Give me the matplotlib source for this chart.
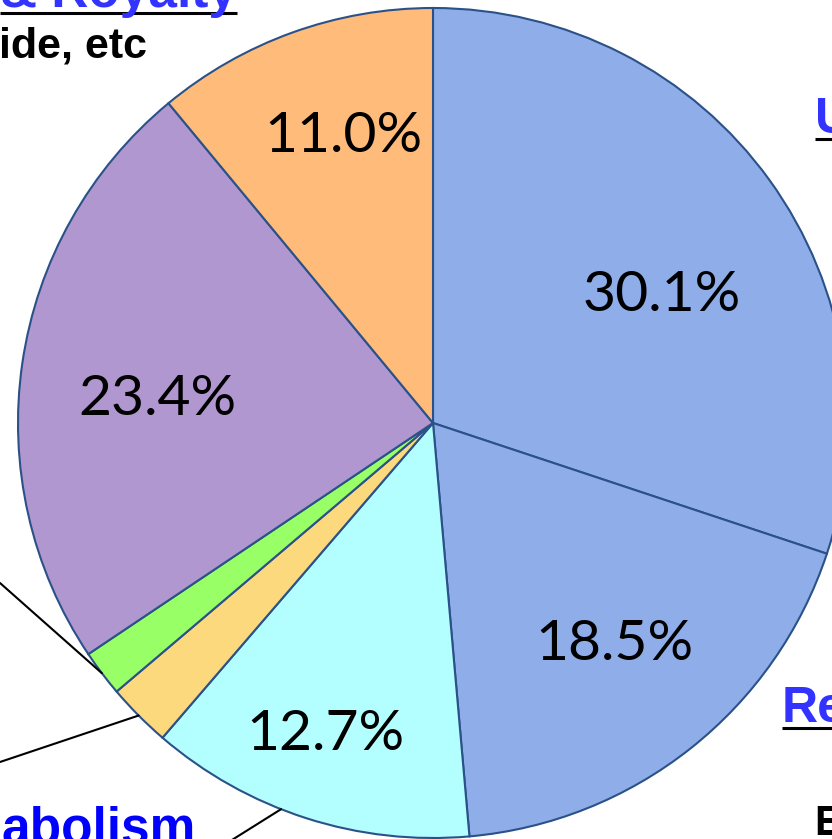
import numpy as np
import matplotlib
matplotlib.use('Agg')
import matplotlib.pyplot as plt

# slice shares, clockwise from 12 o'clock
shares = [30.1, 18.5, 12.7, 2.5, 1.8, 23.4, 11.0]
colors = ['#8EADE9', '#8EADE9', '#B3FFFF', '#FDD97E', '#99FF66', '#B197D0', '#FFBB79']
# label placement: fraction of radius and angle shift (deg, clockwise); None = no label
label_r = [0.636, 0.683, 0.786, None, None, 0.668, 0.732]
label_shift = [6.0, -1.4, 1.5, 0, 0, -2.5, 2.6]

W, H = 832, 839
cx, cy, R = 433, H - 423, 415

fig = plt.figure(figsize=(W / 100, H / 100), dpi=100)
ax = fig.add_axes([0, 0, 1, 1])

wedges, _ = ax.pie(shares, colors=colors, startangle=90, counterclock=False,
                   center=(cx, cy), radius=R, frame=True,
                   wedgeprops=dict(edgecolor='#2B5288', linewidth=1.5))
ax.set_xlim(0, W)
ax.set_ylim(0, H)
ax.axis('off')

for w, v, k, sh in zip(wedges, shares, label_r, label_shift):
    if k is None:
        continue
    mid = np.deg2rad((w.theta1 + w.theta2) / 2 - sh)
    ax.text(cx + k * R * np.cos(mid), cy + k * R * np.sin(mid) - 4, '%.1f%%' % v,
            ha='center', va='center', fontsize=41, family='Lato', color='black')

# leader lines from the small slices (their labels sit outside the visible area)
leader = [(4, 0.5, (0, H - 583)), (3, 0.5, (0, H - 762)), (2, 0.42, (200, H - 860))]
for idx, frac, end in leader:
    w = wedges[idx]
    a = np.deg2rad(w.theta1 + frac * (w.theta2 - w.theta1))
    ax.annotate('', xy=(cx + R * np.cos(a), cy + R * np.sin(a)), xytext=end,
                arrowprops=dict(arrowstyle='-', color='black', lw=1.5,
                                shrinkA=0, shrinkB=0))

blue = '#3333FF'
labels = [
    ('& Royalty', 237, 7, 'right', blue, 37, True),
    ('ide, etc', 147, 58, 'right', 'black', 31, False),
    ('U', 815, 133, 'left', blue, 36, True),
    ('Re', 782, 722, 'left', blue, 36, True),
    ('E', 814, 835, 'left', 'black', 30, False),
    ('abolism', 196, 843, 'right', '#0000FF', 37, False),
]
texts = []
for s, x, y, ha, c, fs, ul in labels:
    t = ax.text(x, H - y, s, ha=ha, va='baseline', color=c, fontsize=fs,
                fontweight='bold', family='Liberation Sans')
    texts.append((t, ul))

fig.canvas.draw()
r = fig.canvas.get_renderer()
for t, ul in texts:
    if not ul:
        continue
    bb = t.get_window_extent(r)
    y0 = t.get_position()[1] - 6
    ax.plot([bb.x0, min(bb.x1, W)], [y0, y0], color='black', lw=2.2,
            solid_capstyle='butt')

fig.savefig('out.png', dpi=100)
